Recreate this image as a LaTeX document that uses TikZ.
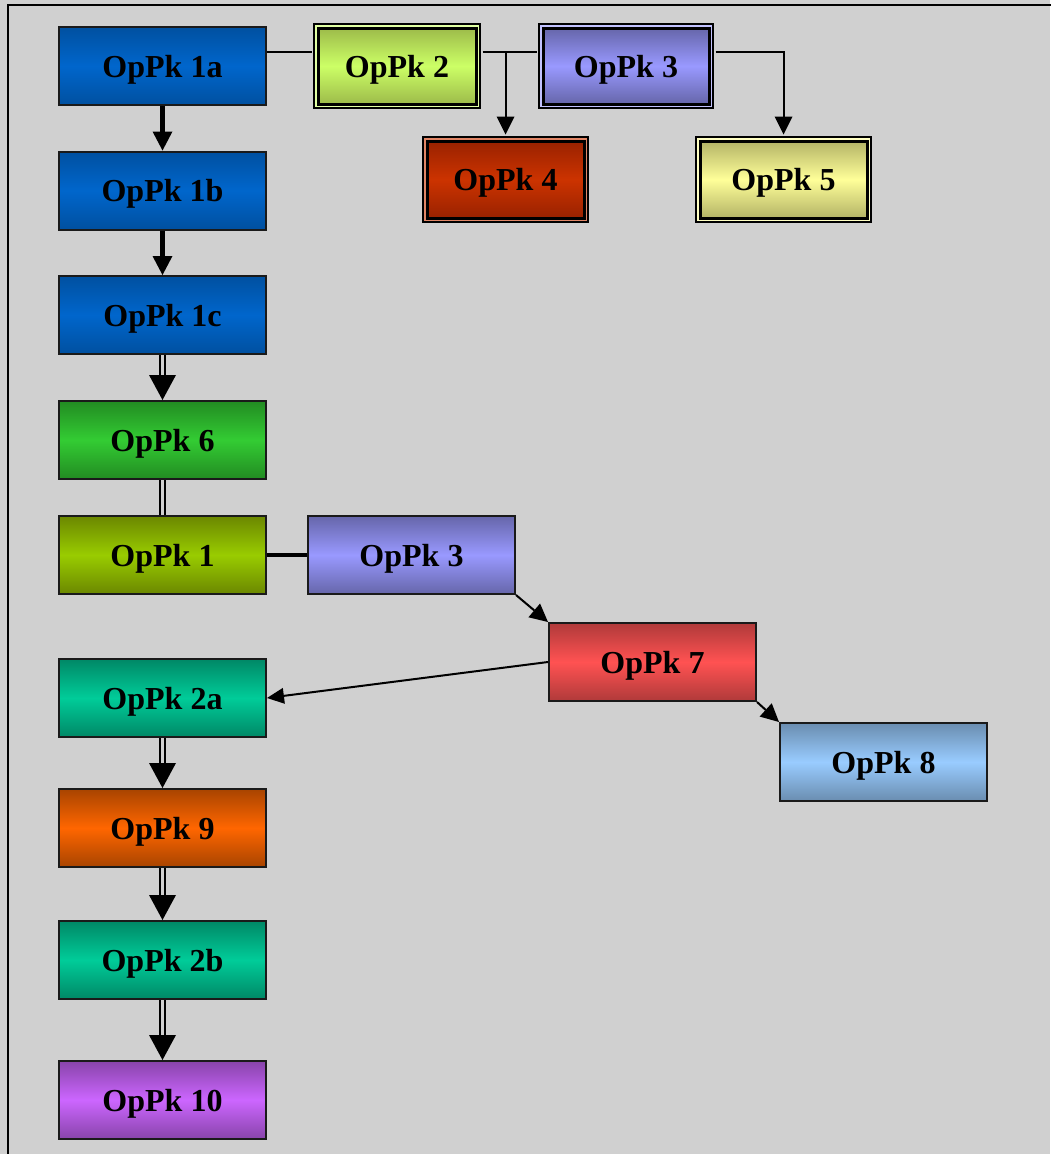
\documentclass[tikz,border=0pt]{standalone}
\usepackage{fontspec}
\setmainfont{Liberation Serif}
\usetikzlibrary{arrows.meta}

% fill colours: edge (dark) and middle (light) tone of each box
\definecolor{bgc}{HTML}{D0D0D0}
\definecolor{blueE}{HTML}{0050A0}\definecolor{blueM}{HTML}{0066CC}
\definecolor{greenE}{HTML}{228B22}\definecolor{greenM}{HTML}{33CC33}
\definecolor{oliveE}{HTML}{6B8700}\definecolor{oliveM}{HTML}{99CC00}
\definecolor{periE}{HTML}{6666AA}\definecolor{periM}{HTML}{9999FF}
\definecolor{redE}{HTML}{B03A3A}\definecolor{redM}{HTML}{FF5252}
\definecolor{tealE}{HTML}{008866}\definecolor{tealM}{HTML}{00CC99}
\definecolor{skyE}{HTML}{6A8DB0}\definecolor{skyM}{HTML}{99CCFF}
\definecolor{orangeE}{HTML}{A84400}\definecolor{orangeM}{HTML}{FF6600}
\definecolor{purpleE}{HTML}{8844AA}\definecolor{purpleM}{HTML}{CC66FF}
\definecolor{limeE}{HTML}{9DBB4A}\definecolor{limeM}{HTML}{CCFF66}
\definecolor{brickE}{HTML}{992200}\definecolor{brickM}{HTML}{CC3300}
\definecolor{yellowE}{HTML}{B3B366}\definecolor{yellowM}{HTML}{FFFF99}
\definecolor{edge}{HTML}{1A1A1A}

\tikzset{
  lbl/.style={font=\bfseries\fontsize{32}{36}\selectfont, text=black,
    inner sep=0pt, text height=22pt, text depth=0pt},
  box/.style 2 args={lbl, rectangle, draw=edge, line width=2pt,
    minimum width=207pt, minimum height=78pt,
    top color=#1, bottom color=#1, middle color=#2},
  dbox/.style n args={4}{lbl, rectangle,
    preaction={draw=black, line width=10pt},
    preaction={draw=#2!60!white, line width=6pt},
    draw=black, line width=3pt, minimum width=#3, minimum height=#4,
    top color=#1, bottom color=#1, middle color=#2},
  thinarrow/.style={line width=2pt, -{Triangle[length=18pt,width=18pt,line width=0pt]}},
  fineline/.style={line width=2pt},
  thickarrow/.style={line width=4.5pt, -{Triangle[length=19pt,width=20pt,line width=0pt]}},
  bar/.style={line width=4pt},
  dblout/.style={line width=7.5pt, draw=black},
  dblin/.style={line width=2.5pt, draw=bgc},
  dbltip/.style={-{Triangle[length=25pt,width=27pt,line width=0pt]}},
}

\begin{document}
\begin{tikzpicture}[x=1pt, y=-1pt]
  \useasboundingbox (0,0) rectangle (1050,1154);
  \fill[bgc] (0,0) rectangle (1050,1154);
  % frame running off the right and bottom edges
  \draw[line width=2.5pt] (8,1170) -- (8,5) -- (1070,5);

  % left column
  \node[box={blueE}{blueM}] (n1a) at (162.5,66) {OpPk 1a};
  \node[box={blueE}{blueM}] (n1b) at (162.5,190.5) {OpPk 1b};
  \node[box={blueE}{blueM}] (n1c) at (162.5,315) {OpPk 1c};
  \node[box={greenE}{greenM}] (n6) at (162.5,440) {OpPk 6};
  \node[box={oliveE}{oliveM}] (n1) at (162.5,555) {OpPk 1};
  \node[box={tealE}{tealM}] (n2a) at (162.5,698) {OpPk 2a};
  \node[box={orangeE}{orangeM}] (n9) at (162.5,828) {OpPk 9};
  \node[box={tealE}{tealM}] (n2b) at (162.5,960) {OpPk 2b};
  \node[box={purpleE}{purpleM}] (n10) at (162.5,1100) {OpPk 10};

  % middle chain
  \node[box={periE}{periM}] (n3b) at (411.5,555) {OpPk 3};
  \node[box={redE}{redM}] (n7) at (652.5,662) {OpPk 7};
  \node[box={skyE}{skyM}] (n8) at (883.5,762) {OpPk 8};

  % top row with framed boxes
  \node[dbox={limeE}{limeM}{158pt}{76pt}] (n2) at (397,66) {OpPk 2};
  \node[dbox={periE}{periM}{166pt}{76pt}] (n3) at (626,66) {OpPk 3};
  \node[dbox={brickE}{brickM}{157pt}{77pt}] (n4) at (505.5,179.5) {OpPk 4};
  \node[dbox={yellowE}{yellowM}{167pt}{77pt}] (n5) at (783.5,179.5) {OpPk 5};

  % top bus line
  \coordinate (bus) at (0,52);
  \draw[fineline, shorten >=5pt] (n1a.east |- bus) -- (n2.west |- bus);
  \draw[fineline, shorten <=5pt, shorten >=5pt] (n2.east |- bus) -- (n3.west |- bus);
  \draw[thinarrow, shorten >=5pt] (n4.north |- bus) -- (n4.north);
  \draw[thinarrow, shorten <=5pt, shorten >=5pt] (n3.east |- bus) -| (n5.north);

  % left column connectors
  \draw[thickarrow] (n1a) -- (n1b);
  \draw[thickarrow] (n1b) -- (n1c);
  \draw[dblout, dbltip] (n1c) -- (n6);
  \draw[dblin, shorten >=25pt] (n1c) -- (n6);
  \draw[dblout] (n6) -- (n1);
  \draw[dblin] (n6) -- (n1);
  \draw[dblout, dbltip] (n2a) -- (n9);
  \draw[dblin, shorten >=25pt] (n2a) -- (n9);
  \draw[dblout, dbltip] (n9) -- (n2b);
  \draw[dblin, shorten >=25pt] (n9) -- (n2b);
  \draw[dblout, dbltip] (n2b) -- (n10);
  \draw[dblin, shorten >=25pt] (n2b) -- (n10);

  % middle chain connectors
  \draw[bar] (n1) -- (n3b);
  \draw[thinarrow] (n3b.south east) -- (n7.north west);
  \draw[fineline, -{Triangle[length=17pt,width=16pt,line width=0pt]}] (n7.west) -- (n2a.east);
  \draw[thinarrow] (n7.south east) -- (n8.north west);
\end{tikzpicture}
\end{document}
